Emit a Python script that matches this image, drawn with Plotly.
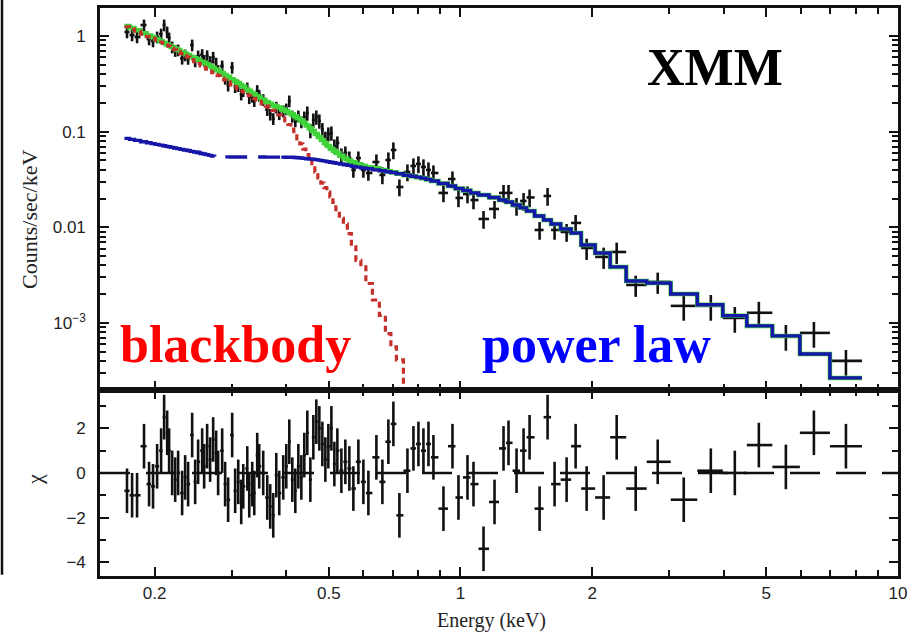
import numpy as np
import plotly.graph_objects as go

# ---------------- data ----------------
energy = [0.1729, 0.1776, 0.1823, 0.1891, 0.1942, 0.1983, 0.2026, 0.2069, 0.2102, 0.2136,
          0.2158, 0.2193, 0.2228, 0.2263, 0.2311, 0.2348, 0.2385, 0.2436, 0.2475, 0.2514,
          0.2568, 0.2595, 0.2636, 0.2678, 0.2721, 0.2764, 0.2793, 0.2853, 0.2898, 0.2944,
          0.3007, 0.3055, 0.3105, 0.3154, 0.3188, 0.3256, 0.3290, 0.3342, 0.3378, 0.3431,
          0.3467, 0.3541, 0.3617, 0.3674, 0.3733, 0.3793, 0.3853, 0.3935, 0.3998, 0.4062,
          0.4127, 0.4193, 0.4260, 0.4328, 0.4396, 0.4466, 0.4538, 0.4610, 0.4683, 0.4758,
          0.4834, 0.4911, 0.4989, 0.5069, 0.5149, 0.5231, 0.5343, 0.5456, 0.5572, 0.5691,
          0.5843, 0.5999, 0.6159, 0.6424, 0.6630, 0.6842, 0.7025, 0.7251, 0.7564, 0.7807,
          0.8015, 0.8229, 0.8450, 0.8673, 0.9143, 0.9587, 0.9895, 1.0376, 1.0709, 1.1289,
          1.1962, 1.2543, 1.2877, 1.3432, 1.3938, 1.4387, 1.5165, 1.5815, 1.6409, 1.7481,
          1.8331, 1.9423, 2.1242, 2.2752, 2.5145, 2.8236, 3.2382, 3.7339, 4.2366, 4.8076,
          5.5425, 6.4238, 7.6036]

counts = [1.101, 1.024, 0.976, 1.303, 0.930, 0.887, 0.976, 1.049, 1.303, 1.101,
          0.953, 0.767, 0.704, 0.714, 0.585, 0.633, 0.582, 0.805, 0.548, 0.618,
          0.639, 0.556, 0.621, 0.539, 0.600, 0.520, 0.435, 0.486, 0.361, 0.306,
          0.470, 0.295, 0.302, 0.2465, 0.268, 0.286, 0.226, 0.234, 0.211, 0.269,
          0.240, 0.216, 0.170, 0.152, 0.1367, 0.180, 0.1535, 0.1645, 0.1726, 0.2093,
          0.1445, 0.1294, 0.1459, 0.1263, 0.1424, 0.1568, 0.1029, 0.1325, 0.1424, 0.1294,
          0.1052, 0.0855, 0.0946, 0.0969, 0.0709, 0.0762, 0.0571, 0.0599, 0.0531, 0.0398,
          0.0531, 0.0398, 0.0370, 0.0482, 0.0353, 0.0506, 0.0644, 0.0264, 0.0379, 0.0438,
          0.0460, 0.0428, 0.0398, 0.0370, 0.0229, 0.0320, 0.0203, 0.0223, 0.0193, 0.01224,
          0.01557, 0.0229, 0.0229, 0.01674, 0.01887, 0.02054, 0.00939, 0.02129, 0.00939, 0.00895,
          0.01112, 0.00609, 0.00491, 0.00553, 0.00250, 0.00269, 0.00151, 0.00151, 0.00113, 0.00128,
          7.33e-4, 7.88e-4, 4.02e-4]

rel_err = [0.14] * 55 + [0.17] * 18 + [0.20] * 16 + [0.21] * 12 + [0.25] * 5 + [0.30] * 7

chi = [-0.8, -1.0, -1.0, 1.2, -0.5, -0.6, 0.3, 1.0, 2.5, 1.8,
       1.0, 0.0, -0.3, 0.0, -0.9, -0.2, -0.5, 1.7, -0.4, 0.5,
       1.0, 0.3, 1.2, 0.6, 1.5, 0.9, 0.0, 1.0, -0.5, -1.2,
       1.7, -0.8, -0.4, -1.3, -0.6, 0.2, -1.0, -0.5, -0.9, 0.8,
       0.3, 0.0, -1.1, -1.5, -1.9, -0.1, -0.9, -0.2, 0.3, 1.4,
       -0.3, -0.8, 0.3, -0.2, 0.8, 1.8, -0.3, 1.6, 2.3, 2.0,
       1.3, 0.6, 1.2, 2.0, 0.4, 1.0, 0.1, 0.5, 0.2, -0.7,
       0.5, -0.4, -0.9, 0.7, -0.4, 1.4, 2.2, -1.9, 0.1, 1.1,
       1.3, 1.0, 1.3, 0.7, -1.6, 1.2, -1.1, -0.2, -0.5, -3.4,
       -1.3, 1.1, 1.35, 0.1, 1.0, 1.6, -1.6, 2.5, -0.5, -0.3,
       1.2, -0.7, -1.1, 1.6, -0.7, 0.5, -1.2, 0.1, 0.0, 1.25,
       0.27, 1.8, 1.2]

model_total = [1.272, 1.212, 1.150, 1.070, 1.015, 0.974, 0.928, 0.882, 0.849, 0.817,
               0.798, 0.767, 0.740, 0.714, 0.681, 0.656, 0.633, 0.605, 0.585, 0.566,
               0.540, 0.529, 0.507, 0.487, 0.466, 0.447, 0.435, 0.411, 0.392, 0.375,
               0.353, 0.338, 0.323, 0.307, 0.297, 0.2767, 0.2676, 0.2543, 0.2460, 0.2350,
               0.2283, 0.2160, 0.2044, 0.1957, 0.1883, 0.1833, 0.1786, 0.1706, 0.1645, 0.1587,
               0.1520, 0.1448, 0.1380, 0.1315, 0.1233, 0.1161, 0.1085, 0.1017, 0.0946, 0.0880,
               0.0819, 0.0762, 0.0709, 0.0665, 0.0632, 0.0600, 0.0560, 0.0524, 0.0499, 0.0479,
               0.0457, 0.0439, 0.0424, 0.0416, 0.0398, 0.0385, 0.0376, 0.0364, 0.0351, 0.0342,
               0.0335, 0.0327, 0.0317, 0.0305, 0.0287, 0.0271, 0.0255, 0.0243, 0.0229, 0.0218,
               0.0205, 0.0193, 0.0184, 0.0171, 0.0160, 0.01484, 0.01316, 0.01195, 0.01085, 0.00962,
               0.00874, 0.00655, 0.00540, 0.00386, 0.00275, 0.00262, 0.00201, 0.00155, 0.00119, 9.33e-4,
               7.33e-4, 4.75e-4, 2.67e-4]

model_powerlaw = [0.0851, 0.0831, 0.0811, 0.0784, 0.0766, 0.0751, 0.0737, 0.0723, 0.0712, 0.0702,
                  0.0696, 0.0685, 0.0676, 0.0666, 0.0653, 0.0644, 0.0635, 0.0622, 0.0614, 0.0605,
                  0.0592, 0.0585, 0.0576, 0.0565, 0.0556, 0.0547, 0.0547, 0.0546, 0.0545, 0.0545,
                  0.0544, 0.0544, 0.0544, 0.0543, 0.0543, 0.0543, 0.0543, 0.0543, 0.0543, 0.0543,
                  0.0543, 0.0543, 0.0542, 0.0542, 0.0542, 0.0542, 0.0542, 0.0542, 0.0541, 0.0541,
                  0.0541, 0.0538, 0.0534, 0.0530, 0.0526, 0.0522, 0.0519, 0.0515, 0.0510, 0.0504,
                  0.0498, 0.0492, 0.0485, 0.0479, 0.0473, 0.0467, 0.0460, 0.0452, 0.0444, 0.0433,
                  0.0426, 0.0418, 0.0411, 0.0399, 0.0390, 0.0381, 0.0374, 0.0363, 0.0351, 0.0342,
                  0.0335, 0.0327, 0.0317, 0.0305, 0.0287, 0.0271, 0.0255, 0.0243, 0.0229, 0.0218,
                  0.0205, 0.0193, 0.0184, 0.0171, 0.0160, 0.01484, 0.01316, 0.01195, 0.01085, 0.00962,
                  0.00874, 0.00655, 0.00540, 0.00386, 0.00275, 0.00262, 0.00201, 0.00155, 0.00119, 9.33e-4,
                  7.33e-4, 4.75e-4, 2.67e-4]

model_blackbody = [1.251, 1.183, 1.128, 1.049, 0.988, 0.953, 0.908, 0.866, 0.835, 0.805,
                   0.786, 0.749, 0.719, 0.690, 0.655, 0.628, 0.603, 0.567, 0.541, 0.517,
                   0.486, 0.470, 0.450, 0.431, 0.4136, 0.396, 0.386, 0.364, 0.347, 0.331,
                   0.309, 0.294, 0.2794, 0.2676, 0.260, 0.246, 0.2388, 0.2293, 0.2228, 0.2134,
                   0.2073, 0.1957, 0.1847, 0.1768, 0.1673, 0.1580, 0.1494, 0.1390, 0.1294, 0.1189,
                   0.1062, 0.0946, 0.0843, 0.0747, 0.0657, 0.0576, 0.0506, 0.0438, 0.0379, 0.0328,
                   0.0290, 0.0260, 0.0233, 0.0208, 0.01825, 0.01531, 0.01242, 0.01083, 0.00861, 0.00627,
                   0.00451, 0.00386, 0.00259, 0.00174, 0.00120, 7.73e-4, 5.64e-4, 4.11e-4, 1.77e-4, 9.7e-5]

x_ticks = [0.2, 0.5, 1, 2, 5, 10]
x_ticklabels = ["0.2", "0.5", "1", "2", "5", "10"]
x_minor = [0.3, 0.4, 0.6, 0.7, 0.8, 0.9, 3, 4, 6, 7, 8, 9]
y_ticks = [1e-3, 0.01, 0.1, 1]
y_ticklabels = ["10<sup>\u22123</sup>", "0.01", "0.1", "1"]
y_minor = [m * d for d in (1e-4, 1e-3, 1e-2, 1e-1) for m in range(2, 10)] + [2]
chi_ticks = [-4, -2, 0, 2]
chi_ticklabels = ["\u22124", "\u22122", "0", "2"]
chi_minor = [-3, -1, 1, 3]

# ---------------- geometry helpers ----------------
E = np.array(energy)
mid = np.sqrt(E[:-1] * E[1:])
lo = np.concatenate([[E[0] ** 2 / mid[0]], mid])
hi = np.concatenate([mid, [E[-1] ** 2 / mid[-1]]])


def step(vals, a=0, b=None):
    v = list(vals)
    if b is None:
        b = len(v)
    xs = list(lo[a:b]) + [hi[b - 1]]
    ys = v[a:b] + [v[b - 1]]
    return xs, ys


C = np.array(counts)
cerr = C * np.array(rel_err)

fig = go.Figure()

BLACK = "#111111"
GREEN = "#3fd43a"
RED = "#c4302a"
BLUE = "#1616a8"

# data crosses
fig.add_trace(go.Scatter(
    x=E, y=C, mode="markers", marker=dict(size=1, color=BLACK, opacity=0),
    error_x=dict(type="data", symmetric=False, array=hi - E, arrayminus=E - lo,
                 color=BLACK, thickness=2.6, width=0),
    error_y=dict(type="data", array=cerr, color=BLACK, thickness=2.6, width=0),
    xaxis="x", yaxis="y", showlegend=False, hoverinfo="skip"))

# total model (green)
xs, ys = step(model_total)
fig.add_trace(go.Scatter(x=xs, y=ys, mode="lines", line=dict(color=GREEN, width=4.5, shape="hv"),
                         xaxis="x", yaxis="y", showlegend=False))
# blackbody (red dotted)
xs, ys = step(model_blackbody)
fig.add_trace(go.Scatter(x=xs, y=ys, mode="lines",
                         line=dict(color=RED, width=3.2, shape="hv", dash="6px,4px"),
                         xaxis="x", yaxis="y", showlegend=False))
# power law (blue): solid / dashed / solid pieces
for a, b, dash in [(0, 20, "solid"), (19, 48, "22px,11px"), (47, len(model_powerlaw), "solid")]:
    xs, ys = step(model_powerlaw, a, b)
    fig.add_trace(go.Scatter(x=xs, y=ys, mode="lines",
                             line=dict(color=BLUE, width=3.4, shape="hv", dash=dash),
                             xaxis="x", yaxis="y", showlegend=False))

# residuals
fig.add_trace(go.Scatter(x=[0.15, 10], y=[0, 0], mode="lines",
                         line=dict(color=BLACK, width=2.4, dash="30px,16px"),
                         xaxis="x2", yaxis="y2", showlegend=False))
fig.add_trace(go.Scatter(
    x=E, y=chi, mode="markers", marker=dict(size=1, color=BLACK, opacity=0),
    error_x=dict(type="data", symmetric=False, array=hi - E, arrayminus=E - lo,
                 color=BLACK, thickness=2.6, width=0),
    error_y=dict(type="constant", value=1, color=BLACK, thickness=2.6, width=0),
    xaxis="x2", yaxis="y2", showlegend=False, hoverinfo="skip"))

tickfont = dict(family="Liberation Sans", size=17, color="#222222")
axis_common = dict(showline=True, linewidth=2.6, linecolor=BLACK, mirror="allticks",
                   ticks="inside", ticklen=9, tickwidth=2.2, tickcolor=BLACK,
                   showgrid=False, zeroline=False, tickfont=tickfont, automargin=False)
split = 0.3275

fig.update_layout(
    width=912, height=633,
    margin=dict(l=100, r=14, t=8, b=57, autoexpand=False),
    paper_bgcolor="white", plot_bgcolor="white",
    xaxis=dict(type="log", range=[np.log10(0.15), 1.0], domain=[0, 1], anchor="y",
               tickvals=x_ticks, ticktext=x_ticklabels, showticklabels=False,
               minor=dict(tickvals=x_minor, ticks="inside", ticklen=6, tickwidth=2, tickcolor=BLACK),
               **axis_common),
    xaxis2=dict(type="log", range=[np.log10(0.15), 1.0], domain=[0, 1], anchor="y2",
                tickvals=x_ticks, ticktext=x_ticklabels, ticklabelstandoff=0,
                minor=dict(tickvals=x_minor, ticks="inside", ticklen=6, tickwidth=2, tickcolor=BLACK),
                **axis_common),
    yaxis=dict(type="log", range=[-3.70, 0.293], domain=[split, 1], anchor="x",
               tickvals=y_ticks, ticktext=y_ticklabels, ticklabelstandoff=8,
               minor=dict(tickvals=y_minor, ticks="inside", ticklen=6, tickwidth=2, tickcolor=BLACK),
               **axis_common),
    yaxis2=dict(range=[-4.62, 3.72], domain=[0, split], anchor="x2",
                tickvals=chi_ticks, ticktext=chi_ticklabels, ticklabelstandoff=8,
                minor=dict(tickvals=chi_minor, ticks="inside", ticklen=6, tickwidth=2, tickcolor=BLACK),
                **axis_common),
    showlegend=False,
)

serif = "Liberation Serif"
ann = [
    dict(text="Counts/sec/keV", x=-0.0877, y=0.6268, textangle=-90,
         font=dict(family=serif, size=22, color="#222222")),
    dict(text="\u03c7", x=-0.0827, y=0.169, textangle=-90,
         font=dict(family=serif, size=22, color="#222222")),
    dict(text="Energy (keV)", x=0.49, y=-0.0775,
         font=dict(family=serif, size=20, color="#222222")),
    dict(text="<b>XMM</b>", x=0.7707, y=0.8958,
         font=dict(family=serif, size=52, color="black")),
    dict(text="<b>blackbody</b>", x=0.1692, y=0.408,
         font=dict(family=serif, size=52, color="#ff0000")),
    dict(text="<b>power law</b>", x=0.6216, y=0.408,
         font=dict(family=serif, size=52, color="#0000ff")),
]
for a in ann:
    fig.add_annotation(xref="paper", yref="paper", showarrow=False,
                       xanchor="center", yanchor="middle", **a)

fig.add_shape(type="line", xref="paper", yref="paper",
              x0=-0.1228, x1=-0.1228, y0=0.002, y1=1.014,
              line=dict(color=BLACK, width=2.5))

fig.write_html("out.html", config={"displayModeBar": False},
               post_script="document.body.style.margin='0px';document.body.style.overflow='hidden';")
